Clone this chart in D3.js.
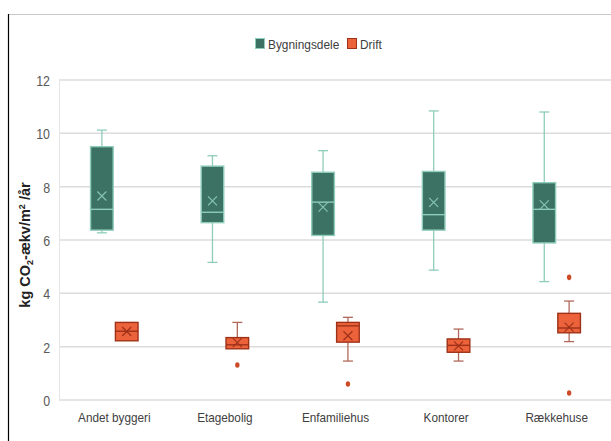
<!DOCTYPE html>
<html><head><meta charset="utf-8">
<script src="https://cdn.jsdelivr.net/npm/d3@7"></script>
<style>
body{margin:0;background:#fff;}
svg{display:block;}
text{font-family:"Liberation Sans",Arial,sans-serif;}
</style></head><body>
<svg id="c" width="611" height="441"></svg>
<script>
const categories = ["Andet byggeri","Etagebolig","Enfamiliehus","Kontorer","Rækkehuse"];
const seriesNames = ["Bygningsdele","Drift"];
const yTicks = [0,2,4,6,8,10,12];
// [whiskerLow, q1, median, q3, whiskerHigh, mean]
const bygningsdele = [
  [6.27, 6.37, 7.15, 9.50, 10.12, 7.65],
  [5.16, 6.65, 7.04, 8.77, 9.16, 7.47],
  [3.67, 6.17, 7.42, 8.54, 9.35, 7.23],
  [4.87, 6.37, 6.95, 8.57, 10.84, 7.41],
  [4.44, 5.89, 7.15, 8.15, 10.80, 7.32]
];
const drift = [
  [2.22, 2.22, 2.58, 2.91, 2.91, 2.57],
  [1.92, 1.92, 2.07, 2.34, 2.91, 2.15],
  [1.46, 2.17, 2.78, 2.91, 3.10, 2.41],
  [1.46, 1.79, 2.05, 2.29, 2.66, 2.03],
  [2.19, 2.52, 2.70, 3.25, 3.71, 2.73]
];
const bygningsdeleOutliers = [[],[],[],[],[]];
const driftOutliers = [[],[1.31],[0.60],[],[4.60,0.26]];

const svg = d3.select("#c");
const W = 611, H = 441;

// frame
svg.append("line").attr("x1",8).attr("x2",W).attr("y1",14.5).attr("y2",14.5).attr("stroke","#c8c8c8").attr("stroke-width",1);
svg.append("line").attr("x1",8.5).attr("x2",8.5).attr("y1",14).attr("y2",H).attr("stroke","#000").attr("stroke-width",1.2);

const x = d3.scaleBand().domain(categories).range([59, 612]);
const xs = d3.scaleBand().domain(seriesNames).range([0, x.bandwidth()]).paddingInner(0.09).paddingOuter(1.27);
const y = d3.scaleLinear().domain([0,12]).range([400, 80]);

// gridlines
svg.append("g").selectAll("line").data(yTicks).join("line")
  .attr("x1",59).attr("x2",W).attr("y1",d=>y(d)).attr("y2",d=>y(d))
  .attr("stroke","#dcdcdc").attr("stroke-width",1.5);
svg.append("line").attr("x1",59.5).attr("x2",59.5).attr("y1",y(12)).attr("y2",y(0)).attr("stroke","#e6e6e6").attr("stroke-width",1);

// y axis
const yAxis = svg.append("g").attr("transform","translate(59,0)")
  .call(d3.axisLeft(y).tickValues(yTicks).tickSize(0).tickPadding(0).tickFormat(d3.format("d")));
yAxis.select(".domain").remove();
yAxis.selectAll("text").attr("fill","#595959").attr("font-size","15.5px")
  .attr("x",-9/0.8).attr("dy","0.36em").attr("transform","scale(0.8,1)");

// x axis
const xAxis = svg.append("g").attr("transform","translate(0,400)")
  .call(d3.axisBottom(x).tickSize(0).tickPadding(12));
xAxis.select(".domain").remove();
xAxis.selectAll("text").attr("fill","#404040").attr("font-size","13.5px").attr("transform","scale(0.87,1)");

// y label
const yl = svg.append("text").attr("transform","translate(30,245) rotate(-90)")
  .attr("text-anchor","middle").attr("font-size","14.5px").attr("font-weight","bold").attr("fill","#222");
yl.append("tspan").text("kg CO");
yl.append("tspan").text("2").attr("font-size","9px").attr("dy","3");
yl.append("tspan").text("-ækv/m").attr("dy","-3");
yl.append("tspan").text("2").attr("font-size","9px").attr("dy","-5");
yl.append("tspan").text(" /år").attr("dy","5");

const styles = {
  "Bygningsdele": {fill:"#3c7264", stroke:"#8fcdbb", whisker:"#8fcdbb", mean:"#86c4b1", out:"#3c7264"},
  "Drift": {fill:"#ec623a", stroke:"#9e3219", whisker:"#b0685a", mean:"#9e3219", out:"#cc4a26"}
};
const data = [
  {name:"Bygningsdele", vals:bygningsdele, outs:bygningsdeleOutliers},
  {name:"Drift", vals:drift, outs:driftOutliers}
];

data.forEach(s => {
  const st = styles[s.name];
  const g = svg.append("g");
  s.vals.forEach((v,i) => {
    const [wl,q1,med,q3,wh,mean] = v;
    const x0 = x(categories[i]) + xs(s.name);
    const bw = xs.bandwidth();
    const cx = x0 + bw/2;
    if (wh > q3) {
      g.append("line").attr("x1",cx).attr("x2",cx).attr("y1",y(q3)).attr("y2",y(wh)).attr("stroke",st.whisker).attr("stroke-width",1.3);
      g.append("line").attr("x1",cx-5).attr("x2",cx+5).attr("y1",y(wh)).attr("y2",y(wh)).attr("stroke",st.whisker).attr("stroke-width",1.3);
    }
    if (wl < q1) {
      g.append("line").attr("x1",cx).attr("x2",cx).attr("y1",y(q1)).attr("y2",y(wl)).attr("stroke",st.whisker).attr("stroke-width",1.3);
      g.append("line").attr("x1",cx-5).attr("x2",cx+5).attr("y1",y(wl)).attr("y2",y(wl)).attr("stroke",st.whisker).attr("stroke-width",1.3);
    }
    g.append("rect").attr("x",x0).attr("y",y(q3)).attr("width",bw).attr("height",y(q1)-y(q3))
      .attr("fill",st.fill).attr("stroke",st.stroke).attr("stroke-width",1.4);
    g.append("line").attr("x1",x0).attr("x2",x0+bw).attr("y1",y(med)).attr("y2",y(med)).attr("stroke",st.stroke).attr("stroke-width",1.4);
    const my = y(mean);
    g.append("path").attr("d",`M${cx-4.5},${my-4.5}L${cx+4.5},${my+4.5}M${cx-4.5},${my+4.5}L${cx+4.5},${my-4.5}`)
      .attr("stroke",st.mean).attr("stroke-width",1.2).attr("fill","none");
    s.outs[i].forEach(o => {
      g.append("ellipse").attr("cx",cx).attr("cy",y(o)).attr("rx",2.2).attr("ry",2.8).attr("fill",st.out);
    });
  });
});

// legend
const lg = svg.append("g").attr("transform","translate(255,38)");
const legendItems = [{name:"Bygningsdele", x:0},{name:"Drift", x:92}];
legendItems.forEach(d => {
  const st = styles[d.name];
  lg.append("rect").attr("x",d.x+0.5).attr("y",0.5).attr("width",9).attr("height",10)
    .attr("fill",st.fill).attr("stroke",d.name==="Drift"?st.stroke:"#8fcdbb").attr("stroke-width",1);
  lg.append("g").attr("transform",`translate(${d.x+13},10.5) scale(0.88,1)`)
    .append("text").attr("font-size","13.5px").attr("fill","#404040").text(d.name);
});
</script></body></html>
